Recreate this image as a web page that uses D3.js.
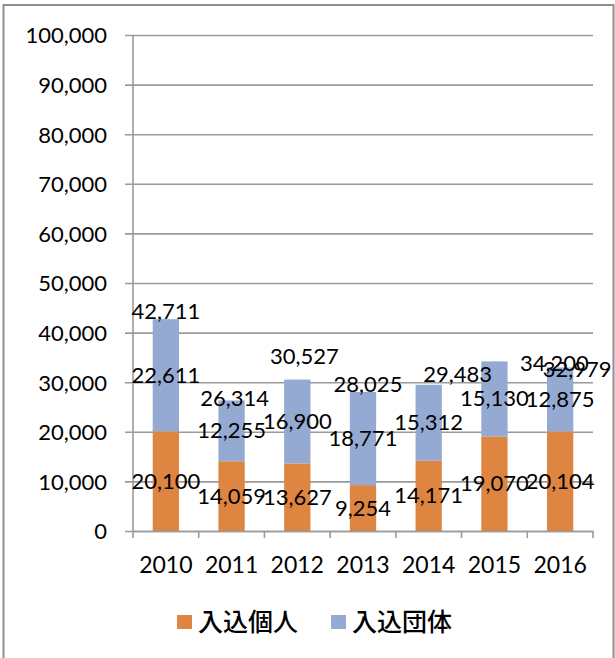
<!DOCTYPE html>
<html lang="ja">
<head>
<meta charset="utf-8">
<title>入込客数</title>
<script src="https://cdn.jsdelivr.net/npm/d3@7/dist/d3.min.js"></script>
<style>
    html, body { margin: 0; padding: 0; background: #fff; }
    svg { display: block; }
    .num { font-family: Lato, "Noto Sans", sans-serif; fill: #000; }
    .legend-label { font-family: "Noto Sans CJK JP", sans-serif; font-weight: 500; fill: #000; }
</style>
</head>
<body>
<svg id="chart" width="615" height="658"></svg>
<script>
const years = ['2010', '2011', '2012', '2013', '2014', '2015', '2016'];
const individual = [20100, 14059, 13627, 9254, 14171, 19070, 20104];
const group = [22611, 12255, 16900, 18771, 15312, 15130, 12875];
const totals = [42711, 26314, 30527, 28025, 29483, 34200, 32979];
const yTicks = [0, 10000, 20000, 30000, 40000, 50000, 60000, 70000, 80000, 90000, 100000];
const seriesNames = ['入込個人', '入込団体'];

(function () {
    'use strict';

    const colors = ['#de8541', '#95aad3'];
    const gridColor = '#9a9a9a';
    // total labels were dragged by hand in the original, so nudge them the same way [dx, dy]
    const totalNudge = [[0, 0], [3, 6], [7, -16], [5, 0], [29, -3], [60, 10], [17, 10]];

    const plot = { left: 133, right: 593, top: 35, bottom: 531 };
    const fmt = d3.format(',');

    const svg = d3.select('#chart');

    svg.append('rect')
        .attr('x', 3.5).attr('y', 5)
        .attr('width', 610).attr('height', 670)
        .attr('fill', 'none')
        .attr('stroke', '#8e8e8e')
        .attr('stroke-width', 2);

    const x = d3.scaleBand()
        .domain(years)
        .range([plot.left, plot.right])
        .padding(0);

    const y = d3.scaleLinear()
        .domain([0, 100000])
        .range([plot.bottom, plot.top]);

    const barW = x.bandwidth() * 0.4;

    // gridlines + y labels
    const yAxis = d3.axisLeft(y)
        .tickValues(yTicks)
        .tickSize(plot.right - plot.left + 8)
        .tickPadding(18)
        .tickFormat(fmt);

    const gy = svg.append('g')
        .attr('transform', `translate(${plot.right},0)`)
        .call(yAxis);
    gy.select('.domain').remove();
    gy.selectAll('.tick line')
        .attr('stroke', gridColor)
        .attr('stroke-width', 1.6);
    gy.selectAll('.tick text')
        .attr('class', 'num')
        .attr('x', plot.left - 26 - plot.right)
        .attr('dy', '0.36em')
        .attr('font-size', 22)
        .attr('font-family', null);

    // bars
    const stacks = years.map((yr, i) => [
        { yr, s: 0, y0: 0, y1: individual[i] },
        { yr, s: 1, y0: individual[i], y1: individual[i] + group[i] },
    ]).flat();

    svg.append('g').selectAll('rect')
        .data(stacks)
        .join('rect')
        .attr('x', (d) => x(d.yr) + (x.bandwidth() - barW) / 2)
        .attr('y', (d) => y(d.y1))
        .attr('width', barW)
        .attr('height', (d) => y(d.y0) - y(d.y1))
        .attr('fill', (d) => colors[d.s]);

    // vertical axis line
    svg.append('line')
        .attr('x1', plot.left).attr('x2', plot.left)
        .attr('y1', y(100000)).attr('y2', y(0))
        .attr('stroke', gridColor)
        .attr('stroke-width', 1.6);

    // category axis
    const xAxis = d3.axisBottom(x).tickSize(0).tickPadding(26);
    const gx = svg.append('g')
        .attr('transform', `translate(0,${plot.bottom})`)
        .call(xAxis);
    gx.select('.domain')
        .attr('stroke', gridColor)
        .attr('stroke-width', 1.6);
    gx.selectAll('.tick text')
        .attr('class', 'num')
        .attr('font-size', 23)
        .attr('font-family', null);

    const edges = years.map((yr) => x(yr)).concat([plot.right]);
    gx.selectAll('.edge')
        .data(edges)
        .join('line')
        .attr('class', 'edge')
        .attr('x1', (d) => d).attr('x2', (d) => d)
        .attr('y1', 0).attr('y2', 7)
        .attr('stroke', gridColor)
        .attr('stroke-width', 1.6);

    // data labels
    const labels = svg.append('g').attr('class', 'num').attr('font-size', 22);

    labels.selectAll('.seg')
        .data(stacks)
        .join('text')
        .attr('class', 'seg')
        .attr('x', (d) => x(d.yr) + x.bandwidth() / 2)
        .attr('y', (d) => y((d.y0 + d.y1) / 2) + 7.5)
        .attr('text-anchor', 'middle')
        .text((d) => fmt(d.y1 - d.y0));

    labels.selectAll('.total')
        .data(totals)
        .join('text')
        .attr('class', 'total')
        .attr('x', (d, i) => x(years[i]) + x.bandwidth() / 2 + totalNudge[i][0])
        .attr('y', (d, i) => y(d) + totalNudge[i][1])
        .attr('text-anchor', 'middle')
        .text((d) => fmt(d));

    // legend
    const legend = svg.append('g').attr('transform', 'translate(177,615)');
    const legendX = [0, 154];
    seriesNames.forEach((name, i) => {
        legend.append('rect')
            .attr('x', legendX[i]).attr('y', 0)
            .attr('width', 15).attr('height', 14)
            .attr('fill', colors[i]);
        legend.append('text')
            .attr('class', 'legend-label')
            .attr('x', legendX[i] + 21)
            .attr('y', 16)
            .attr('font-size', 25)
            .text(name);
    });
})();
</script>
</body>
</html>
